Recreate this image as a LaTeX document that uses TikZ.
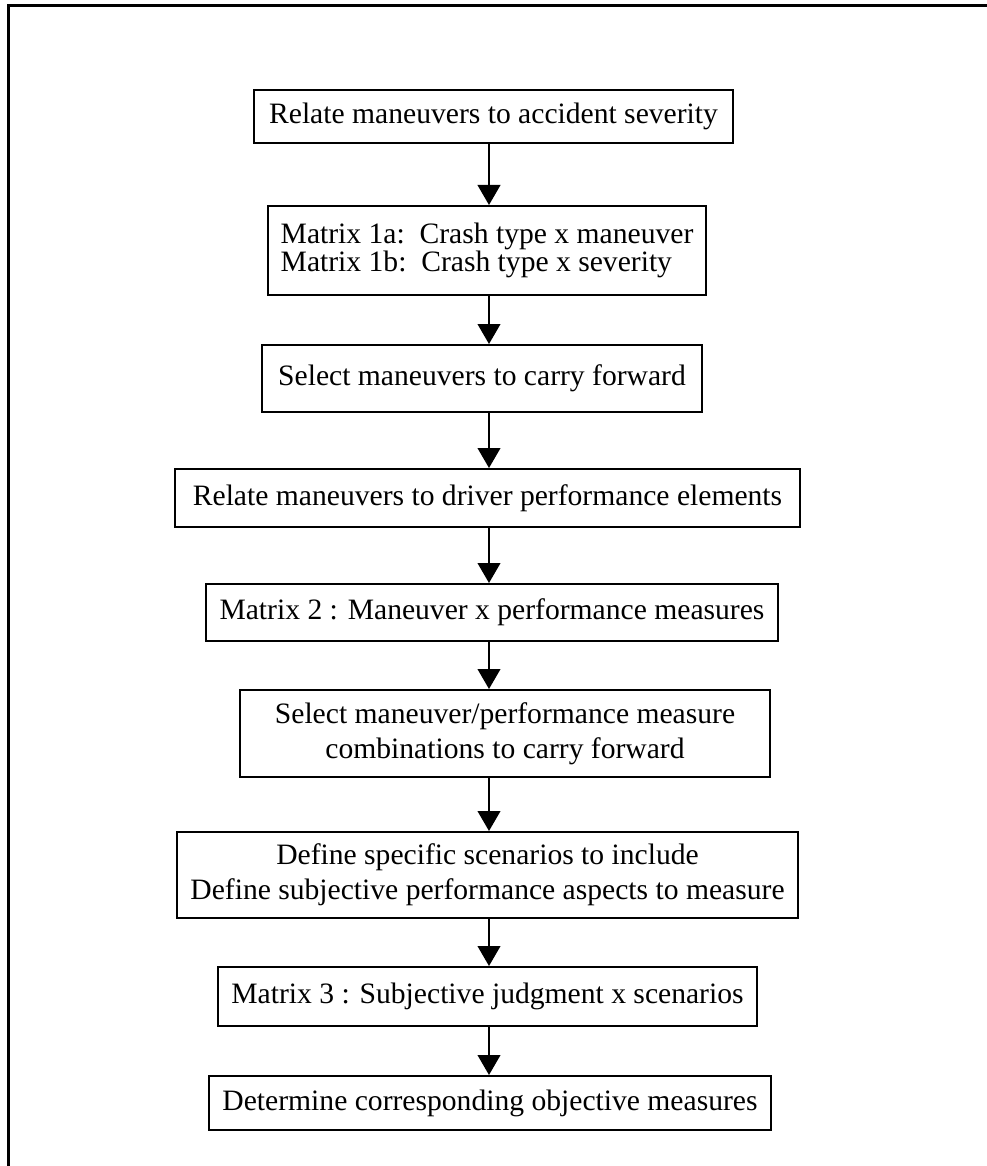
\documentclass[tikz,border=0pt]{standalone}
\usepackage{fontspec}
\setmainfont{Liberation Serif}
\usetikzlibrary{arrows.meta}

\begin{document}
\begin{tikzpicture}[x=0.75pt,y=-0.75pt,
  stepbox/.style 2 args={draw,line width=1.5pt,inner sep=0pt,
    minimum width=#1*0.75pt,minimum height=#2*0.75pt,align=center,
    font=\fontsize{22.2pt}{26.3pt}\selectfont},
  flow/.style={line width=1.5pt,-{Triangle[width=17pt,length=15pt]}}]
  \useasboundingbox (0,0) rectangle (987,1166);
  \draw[line width=2.25pt] (987,5.5) -- (8.5,5.5) -- (8.5,1166);

 \coordinate (axis) at (489,0);

 \node[stepbox={479}{53}] (sev) at (493.5,116.5) {Relate maneuvers to accident severity};
 \node[stepbox={438}{89},align=left,font=\fontsize{22.2pt}{21pt}\selectfont] (mat1) at (487,250.5)
   {Matrix 1a:\ \ Crash type x maneuver\\Matrix 1b:\ \ Crash type x severity};
 \node[stepbox={440}{67}] (selman) at (482,378.5) {Select maneuvers to carry forward};
 \node[stepbox={625}{58}] (perf) at (487.5,498) {Relate maneuvers to driver performance elements};
 \node[stepbox={572}{57}] (mat2) at (492,612.5) {Matrix 2 : Maneuver x performance measures};
 \node[stepbox={530}{87}] (selcomb) at (505,733.5)
   {Select maneuver/performance measure\\combinations to carry forward};
 \node[stepbox={621}{86}] (define) at (487.5,875)
   {Define specific scenarios to include\\Define subjective performance aspects to measure};
 \node[stepbox={539}{59}] (mat3) at (487.5,996.5) {Matrix 3 : Subjective judgment x scenarios};
 \node[stepbox={562}{54}] (obj) at (490,1103) {Determine corresponding objective measures};

 \foreach \a/\b in {sev/mat1,mat1/selman,selman/perf,perf/mat2,mat2/selcomb,selcomb/define,define/mat3,mat3/obj}
   \draw[flow] (\a.south -| axis) -- (\b.north -| axis);

\end{tikzpicture}
\end{document}
